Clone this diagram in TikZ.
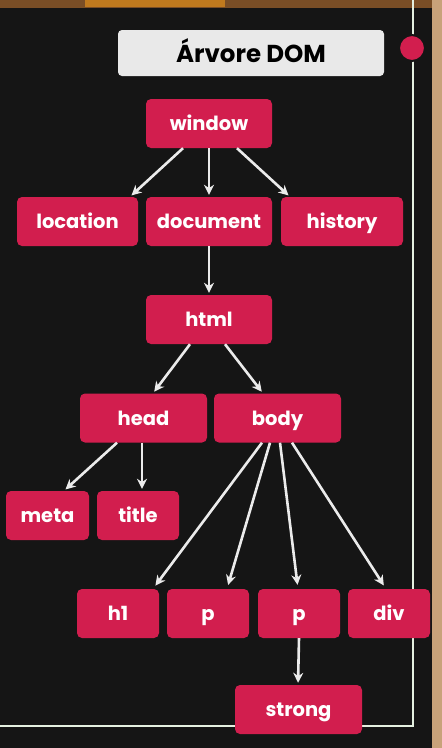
\documentclass[tikz,border=0pt]{standalone}
\usepackage{fontspec}
\setmainfont{Poppins}
\usetikzlibrary{arrows.meta}
\definecolor{bg}{HTML}{151515}
\definecolor{boxred}{HTML}{D21E4E}
\definecolor{titlebg}{HTML}{E9E9E9}
\definecolor{orangebg}{HTML}{7A4E26}
\definecolor{orangeglow}{HTML}{C07A1E}
\definecolor{tanbg}{HTML}{C8A27A}
\definecolor{frameline}{HTML}{E4F0E0}
\tikzset{
  box/.style={fill=boxred, rounded corners=5pt, minimum height=49pt, inner sep=0pt,
    text=white, font=\fontsize{19.5}{22}\selectfont\bfseries, minimum width=#1,
    text height=15pt, text depth=1pt},
  arr/.style={draw=white!92!black, line width=2.6pt, -{Stealth[length=10pt,width=10pt]}, shorten >=2pt}
}
\begin{document}
\begin{tikzpicture}[x=1pt,y=-1pt]
\useasboundingbox (0,0) rectangle (442,748);
\fill[bg] (0,0) rectangle (442,748);
\fill[orangebg] (0,0) rectangle (442,8);
\fill[orangeglow] (85,0) rectangle (225,7);
\fill[tanbg] (432,0) rectangle (442,748);
\draw[frameline, line width=2pt] (413,0) -- (413,726) -- (0,726);
\node[circle, fill=boxred, minimum size=26pt, inner sep=0pt, draw=bg, line width=2pt] (dot) at (412,48) {};
\node[fill=titlebg, rounded corners=4pt, minimum width=266pt, minimum height=46pt, inner sep=0pt,
  font=\fontsize{24.5}{28}\selectfont\bfseries, text=black, text height=19pt, text depth=1pt] (ttl) at (251,53) {Árvore DOM};

\node[box=126pt] (window) at (209,123.5) {window};
\node[box=121pt] (location) at (77.5,221.5) {location};
\node[box=126pt] (document) at (209,221.5) {document};
\node[box=122pt] (history) at (342,221.5) {history};
\node[box=126pt] (html) at (209,319.5) {html};
\node[box=127pt] (head) at (143.5,418) {head};
\node[box=127pt] (body) at (277.5,418) {body};
\node[box=83pt] (meta) at (47.5,515.5) {meta};
\node[box=82pt] (title) at (138,515.5) {title};
\node[box=82pt] (h1) at (118,613.5) {h1};
\node[box=82pt] (p1) at (208,613.5) {p};
\node[box=82pt] (p2) at (299,613.5) {p};
\node[box=82pt] (div) at (389,613.5) {div};
\node[box=127pt] (strong) at (298.5,709.5) {strong};

\draw[arr] ([xshift=-26pt]window.south) -- ([xshift=52.5pt]location.north);
\draw[arr] (window.south) -- (document.north);
\draw[arr] ([xshift=28pt]window.south) -- ([xshift=-52pt]history.north);
\draw[arr] (document.south) -- (html.north);
\draw[arr] ([xshift=-19pt]html.south) -- ([xshift=9.5pt]head.north);
\draw[arr] ([xshift=16pt]html.south) -- ([xshift=-14.5pt]body.north);
\draw[arr] ([xshift=-26.5pt]head.south) -- ([xshift=16.5pt]meta.north);
\draw[arr] ([xshift=-1.5pt]head.south) -- ([xshift=4pt]title.north);
\draw[arr, shorten >=4pt] ([xshift=-15.5pt]body.south) -- ([xshift=35pt]h1.north);
\draw[arr, shorten >=4pt] ([xshift=-7.5pt]body.south) -- ([xshift=19pt]p1.north);
\draw[arr, shorten >=4pt] ([xshift=2.5pt]body.south) -- ([xshift=-1pt]p2.north);
\draw[arr, shorten >=4pt] ([xshift=14.5pt]body.south) -- ([xshift=-3pt]div.north);
\draw[arr] (p2.south) -- ([xshift=-0.5pt]strong.north);
\end{tikzpicture}
\end{document}
